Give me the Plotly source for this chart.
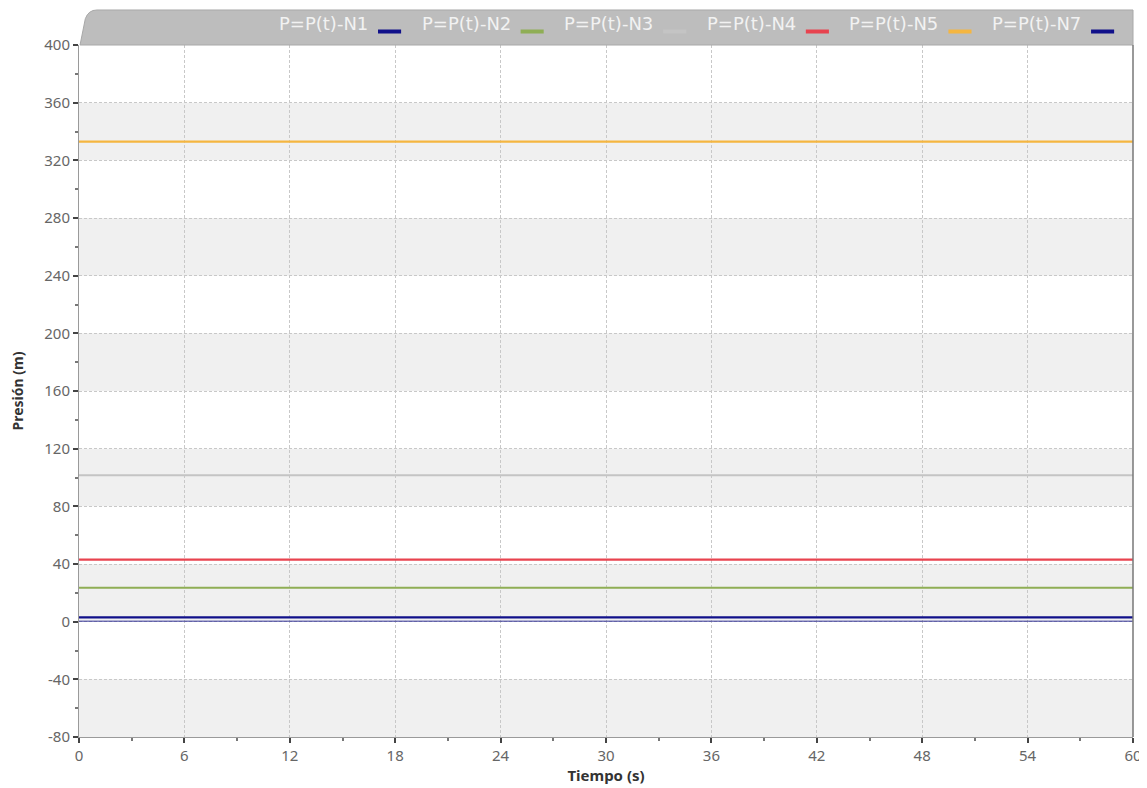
import plotly.graph_objects as go

# ---- data ----
time_s = [0, 60]
series_names = ["P=P(t)-N1", "P=P(t)-N2", "P=P(t)-N3", "P=P(t)-N4", "P=P(t)-N5", "P=P(t)-N7"]
series_colors = ["#10108a", "#8fae55", "#c4c4c4", "#e8434f", "#f5b640", "#10108a"]
n1 = [3, 3]
n2 = [23.5, 23.5]
n3 = [101.5, 101.5]
n4 = [43, 43]
n5 = [333, 333]
n7 = [0.3, 0.3]
series_values = [n1, n2, n3, n4, n5, n7]
x_ticks = [0, 6, 12, 18, 24, 30, 36, 42, 48, 54, 60]
y_ticks = [-80, -40, 0, 40, 80, 120, 160, 200, 240, 280, 320, 360, 400]

FONT = "Noto Sans"
fig = go.Figure()

# alternating bands
for lo in range(-80, 400, 80):
    fig.add_shape(type="rect", xref="paper", yref="y", x0=0, x1=1, y0=lo, y1=lo + 40,
                  fillcolor="#f0f0f0", line_width=0, layer="below")

widths = [2.2, 2, 2, 2.2, 2.2, 1.4]
opac = [1, 1, 1, 1, 1, 0.55]
order = [5, 2, 4, 3, 1, 0]
for i in order:
    fig.add_trace(go.Scatter(x=time_s, y=series_values[i], mode="lines", name=series_names[i],
                             line=dict(color=series_colors[i], width=widths[i]),
                             opacity=opac[i], showlegend=False, hoverinfo="skip"))

# legend bar
fig.add_shape(type="path", xref="paper", yref="paper",
              path="M 0.001,1.0 L 0.006,1.038 Q 0.009,1.0506 0.017,1.0506 L 1,1.0506 L 1,1.0 Z",
              fillcolor="#bdbdbd", line=dict(color="#a8a8a8", width=1), layer="above")

step = 0.1353
for i, (nm, col) in enumerate(zip(series_names, series_colors)):
    xr = 0.2761 + step * i
    fig.add_annotation(xref="paper", yref="paper", x=xr, y=1.0305, text=nm, showarrow=False,
                       xanchor="right", yanchor="middle",
                       font=dict(family="DejaVu Sans", size=18, color="#f2f2f2"))
    fig.add_shape(type="line", xref="paper", yref="paper", x0=xr + 0.0076, x1=xr + 0.0295,
                  y0=1.0195, y1=1.0195, line=dict(color=col, width=4), layer="above")

axis_common = dict(
    showline=True, linecolor="#9a9a9a", linewidth=1,
    showgrid=True, gridcolor="#c8c8c8", gridwidth=1, griddash="3px,2px",
    zeroline=False, ticks="outside", ticklen=5, tickcolor="#444", tickwidth=1.5,
    tickfont=dict(family=FONT, size=15, color="#666"),
    minor=dict(ticks="outside", ticklen=3, tickcolor="#777", showgrid=False),
    automargin=False, ticklabeloverflow="allow",
)

fig.update_xaxes(**axis_common, range=[0, 60], tickvals=x_ticks,
                 ticktext=[str(v) for v in x_ticks],
                 title=dict(text="<b>Tiempo (s)</b>", font=dict(family=FONT, size=15, color="#333"),
                            standoff=4))
fig.update_xaxes(minor_dtick=3)
fig.update_yaxes(**axis_common, range=[-80, 400], tickvals=y_ticks,
                 ticktext=[str(v) for v in y_ticks],
                 title=dict(text="<b>Presión (m)</b>", font=dict(family=FONT, size=14, color="#333"),
                            standoff=20))
fig.update_yaxes(minor_dtick=20)

# right border
fig.add_shape(type="line", xref="paper", yref="paper", x0=1, x1=1, y0=0, y1=1,
              line=dict(color="#777", width=1.5), layer="above")

# page body has an 8px margin, so size/margins compensate for it
fig.update_layout(
    width=1139, height=780,
    margin=dict(l=71, r=14, t=37, b=51),
    paper_bgcolor="white", plot_bgcolor="white",
    showlegend=False,
)

fig.write_html("out.html")
